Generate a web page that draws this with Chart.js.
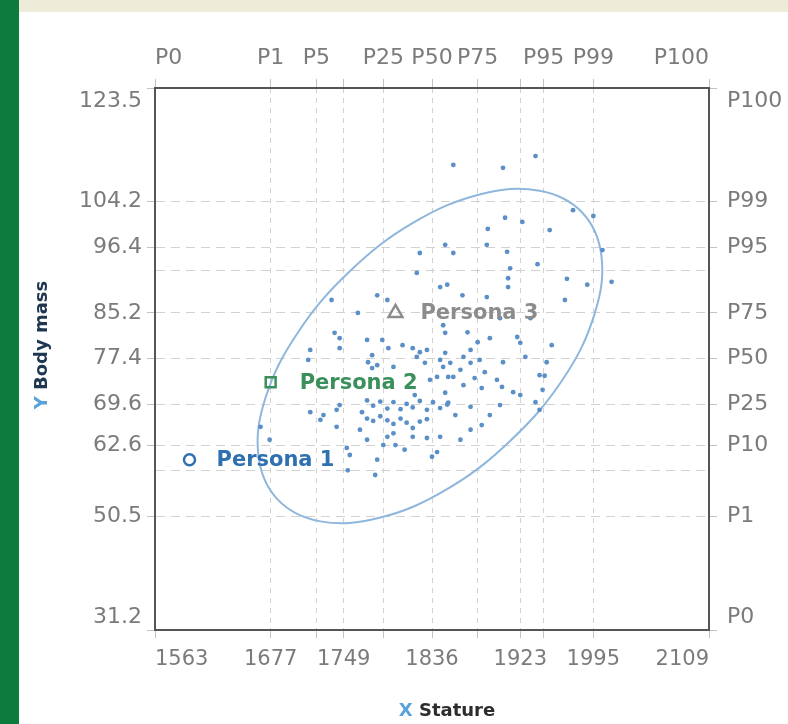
<!DOCTYPE html>
<html>
<head>
<meta charset="utf-8">
<script src="https://cdn.jsdelivr.net/npm/chart.js@4.4.1/dist/chart.umd.min.js"></script>
<style>
html,body{margin:0;padding:0;background:#fff;}
#wrap{position:relative;width:788px;height:724px;overflow:hidden;background:#fff;}
#green{position:absolute;left:0;top:0;width:19px;height:724px;background:#0c7b3b;}
#band{position:absolute;left:19px;top:0;right:0;height:12px;background:#edecd9;}
canvas{position:absolute;left:0;top:0;}
</style>
</head>
<body>
<div id="wrap"><div id="green"></div><div id="band"></div><canvas id="c" width="788" height="724"></canvas></div>
<script>
// ---- axis ranges & ticks ----
const X_MIN = 1563, X_MAX = 2109;
const Y_MIN = 31.2, Y_MAX = 123.5;
const xGridValues   = [1563, 1677, 1722, 1749, 1788, 1836, 1881, 1923, 1946, 1995, 2109];
const xBottomLabels = ['1563', '1677', '', '1749', '', '1836', '', '1923', '', '1995', '2109'];
const xTopLabels    = ['P0', 'P1', 'P5', '', 'P25', 'P50', 'P75', '', 'P95', 'P99', 'P100'];
const yGridValues   = [31.2, 50.5, 58.4, 62.6, 69.6, 77.4, 85.2, 92.5, 96.4, 104.2, 123.5];
const yLeftLabels   = ['31.2', '50.5', '', '62.6', '69.6', '77.4', '85.2', '', '96.4', '104.2', '123.5'];
const yRightLabels  = ['P0', 'P1', '', 'P10', 'P25', 'P50', 'P75', '', 'P95', 'P99', 'P100'];

// ---- sample (stature mm, body mass kg) ----
const statureValues = [
  1857,1906,1938,1975,1995,1908,1925,1891,1952,1849,
  1857,1890,1910,2004,1940,1913,1911,1911,1969,1989,
  2013,1844,1851,1866,1890,1967,1849,1871,1893,1920,
  1923,1928,1831,1849,1844,1854,1867,1874,1883,1864,
  1857,1906,1949,1942,1947,1945,1900,1905,1885,1834,
  1849,1852,1874,1916,
  1737,1782,1792,1763,1847,1740,1745,1772,1787,1716,
  1714,1745,1793,1807,1817,1824,1777,1773,1782,1777,
  1798,1821,1829,1847,1852,1841,
  1745,1742,1716,1729,1726,
  1772,1778,1785,1792,1798,1805,1811,1817,1824,1831,1837,1844,1851,
  1767,1772,1778,1785,1792,1798,1805,1811,1817,1824,1831,
  1742,1667,1792,1798,1788,1772,1817,1831,1844,1752,1755,1841,1836,1782,1753,1780,1676,
  1824,1821,1881,1874,1888,1878,1867,1923,1938,1903,1893,1942,1874,1864,1885,1859,
  1933,1903,1954,1800,1809,1765,1819
];
const massValues = [
  110.4,109.9,111.9,102.7,101.7,101.4,100.7,99.5,99.3,96.8,
  95.4,96.8,95.6,95.9,93.5,92.8,91.1,89.6,91.0,90.0,
  90.5,89.6,90.0,88.2,87.9,87.4,81.8,81.9,80.9,81.1,
  80.1,77.7,78.9,78.4,77.2,76.7,77.7,76.7,77.2,75.5,
  74.3,76.8,76.8,74.6,74.5,72.1,73.8,72.6,72.4,73.8,
  71.6,69.9,69.2,71.7,
  87.4,88.2,87.4,85.2,83.1,81.8,80.9,80.6,80.6,78.9,
  77.2,79.2,79.2,79.7,79.2,78.5,78.0,76.8,76.3,75.8,
  76.0,77.7,76.7,76.0,74.3,74.3,
  69.5,68.7,68.3,67.8,67.0,
  70.3,69.4,70.1,68.9,70.0,68.8,69.7,69.1,70.2,68.7,70.0,69.0,69.6,
  68.3,67.2,66.8,67.6,66.9,66.3,67.2,66.5,65.6,66.7,67.1,
  65.8,65.8,64.1,64.7,62.7,63.6,64.1,63.9,64.1,62.2,61.0,61.5,60.7,60.2,58.4,57.6,63.6,
  95.4,92.0,80.2,78.9,75.1,74.1,72.9,71.2,70.0,69.5,67.8,68.7,65.3,63.6,66.1,67.8,
  84.3,84.3,79.7,62.7,61.9,65.3,71.2
];

// ---- ellipse outline points (closed loop, with wrap-around neighbours) ----
const ellipseStature = [2003,1984,1942,1884,1818,1755,1704,1672,1665,1684,1726,1784,1850,1913,1965,1996,2003,1984,1942];
const ellipseMass    = [94.9,102.3,106.0,105.4,100.6,92.3,81.9,70.8,60.8,53.4,49.7,50.3,55.1,63.4,73.9,84.9,94.9,102.3,106.0];

// ---- personas ----
const personaNames   = ['Persona 1', 'Persona 2', 'Persona 3'];
const personaStature = [1597, 1677, 1800];
const personaMass    = [60.2, 73.4, 85.2];
const personaColors  = ['#2f70b0', '#3a8f5a', '#8c8c8c'];
const personaStyles  = ['circle', 'rect', 'triangle'];

const TICK_FONT = {family: 'DejaVu Sans', size: 22};
const TICK_FONT_B = {family: 'DejaVu Sans', size: 21};
const TICK_COLOR = '#7b7b7b';
const GRID_COLOR = '#d2d2d2';
const TICKMARK_COLOR = '#c2c2c2';
const BORDER = {display: true, color: '#555', width: 2};

const scatterData = statureValues.map((v, i) => ({x: v, y: massValues[i]}));
const ellipseData = ellipseStature.map((v, i) => ({x: v, y: ellipseMass[i]}));
const lastSeg = ellipseData.length - 2;

const personaDatasets = personaNames.map((n, i) => ({
  label: n,
  data: [{x: personaStature[i], y: personaMass[i]}],
  pointStyle: personaStyles[i],
  pointRadius: i === 0 ? 5.5 : (i === 1 ? 7 : 8),
  pointBorderWidth: 2.5,
  pointBorderColor: personaColors[i],
  pointBackgroundColor: 'rgba(255,255,255,0)'
}));

function yLabel(labels) {
  return (v, i) => {
    const t = labels[i];
    if (i === 0) return [t, ''];
    if (i === labels.length - 1) return ['', t];
    return t;
  };
}

const personaLabelPlugin = {
  id: 'personaLabels',
  afterDatasetsDraw(chart) {
    const {ctx, scales} = chart;
    ctx.save();
    ctx.font = 'bold 21px "DejaVu Sans"';
    ctx.textBaseline = 'middle';
    ctx.textAlign = 'left';
    const offs = [27, 29, 25];
    personaNames.forEach((n, i) => {
      ctx.fillStyle = personaColors[i];
      ctx.fillText(n, scales.x.getPixelForValue(personaStature[i]) + offs[i], scales.y.getPixelForValue(personaMass[i]) + 1);
    });
    ctx.restore();
  }
};

const axisTitlePlugin = {
  id: 'axisTitles',
  afterDraw(chart) {
    const {ctx} = chart;
    ctx.save();
    ctx.font = 'bold 18px "DejaVu Sans"';
    ctx.textBaseline = 'middle';
    ctx.textAlign = 'left';
    // X title
    const a = 'X ', b = 'Stature';
    const wa = ctx.measureText(a).width, wb = ctx.measureText(b).width;
    let x0 = 447 - (wa + wb) / 2;
    ctx.fillStyle = '#5aa2dc'; ctx.fillText(a, x0, 711);
    ctx.fillStyle = '#2d2d2d'; ctx.fillText(b, x0 + wa, 711);
    // Y title
    const c = 'Y ', d = 'Body mass';
    const wc = ctx.measureText(c).width, wd = ctx.measureText(d).width;
    ctx.translate(42, 345);
    ctx.rotate(-Math.PI / 2);
    const s0 = -(wc + wd) / 2;
    ctx.fillStyle = '#5aa2dc'; ctx.fillText(c, s0, 0);
    ctx.fillStyle = '#1f3550'; ctx.fillText(d, s0 + wc, 0);
    ctx.restore();
  }
};

new Chart(document.getElementById('c'), {
  type: 'scatter',
  data: {
    datasets: [
      ...personaDatasets,
      {
        label: 'Sample',
        data: scatterData,
        pointRadius: 2.4,
        pointBorderWidth: 0,
        pointBackgroundColor: '#5b8fc7'
      },
      {
        label: 'Ellipse',
        data: ellipseData,
        showLine: true,
        tension: 0.38,
        pointRadius: 0,
        borderWidth: 2,
        borderColor: '#8fb6dc',
        fill: false,
        segment: {
          borderColor: s => (s.p0DataIndex === 0 || s.p0DataIndex === lastSeg) ? 'rgba(0,0,0,0)' : '#8fb6dc'
        }
      }
    ]
  },
  options: {
    responsive: false,
    animation: false,
    events: [],
    layout: {padding: 0},
    plugins: {legend: {display: false}, tooltip: {enabled: false}},
    scales: {
      x: {
        type: 'linear', position: 'bottom', min: X_MIN, max: X_MAX,
        afterBuildTicks: s => { s.ticks = xGridValues.map(v => ({value: v})); },
        afterFit: s => { s.height = 94; },
        ticks: {autoSkip: false, maxRotation: 0, minRotation: 0, align: 'inner', padding: 9,
                color: TICK_COLOR, font: TICK_FONT_B, callback: (v, i) => xBottomLabels[i]},
        grid: {color: GRID_COLOR, lineWidth: 1, tickLength: 8, tickColor: TICKMARK_COLOR},
        border: Object.assign({dash: [5, 5]}, BORDER)
      },
      x2: {
        type: 'linear', position: 'top', min: X_MIN, max: X_MAX,
        afterBuildTicks: s => { s.ticks = xGridValues.map(v => ({value: v})); },
        afterFit: s => { s.height = 88; },
        ticks: {autoSkip: false, maxRotation: 0, minRotation: 0, align: 'inner', padding: 8,
                color: TICK_COLOR, font: TICK_FONT, callback: (v, i) => xTopLabels[i]},
        grid: {drawOnChartArea: false, tickLength: 9, tickColor: TICKMARK_COLOR},
        border: BORDER
      },
      y: {
        type: 'linear', position: 'left', min: Y_MIN, max: Y_MAX,
        afterBuildTicks: s => { s.ticks = yGridValues.map(v => ({value: v})); },
        afterFit: s => { s.width = 155; },
        ticks: {autoSkip: false, padding: 5, color: TICK_COLOR, font: TICK_FONT, callback: yLabel(yLeftLabels)},
        grid: {color: GRID_COLOR, lineWidth: 1, tickLength: 8,
               tickColor: c => (yLeftLabels[c.index] ? TICKMARK_COLOR : 'rgba(0,0,0,0)')},
        border: Object.assign({dash: [9, 6]}, BORDER)
      },
      y2: {
        type: 'linear', position: 'right', min: Y_MIN, max: Y_MAX,
        afterBuildTicks: s => { s.ticks = yGridValues.map(v => ({value: v})); },
        afterFit: s => { s.width = 79; },
        ticks: {autoSkip: false, padding: 10, color: TICK_COLOR, font: TICK_FONT, callback: yLabel(yRightLabels)},
        grid: {drawOnChartArea: false, tickLength: 8,
               tickColor: c => (yRightLabels[c.index] ? TICKMARK_COLOR : 'rgba(0,0,0,0)')},
        border: BORDER
      }
    }
  },
  plugins: [personaLabelPlugin, axisTitlePlugin]
});
</script>
</body>
</html>
